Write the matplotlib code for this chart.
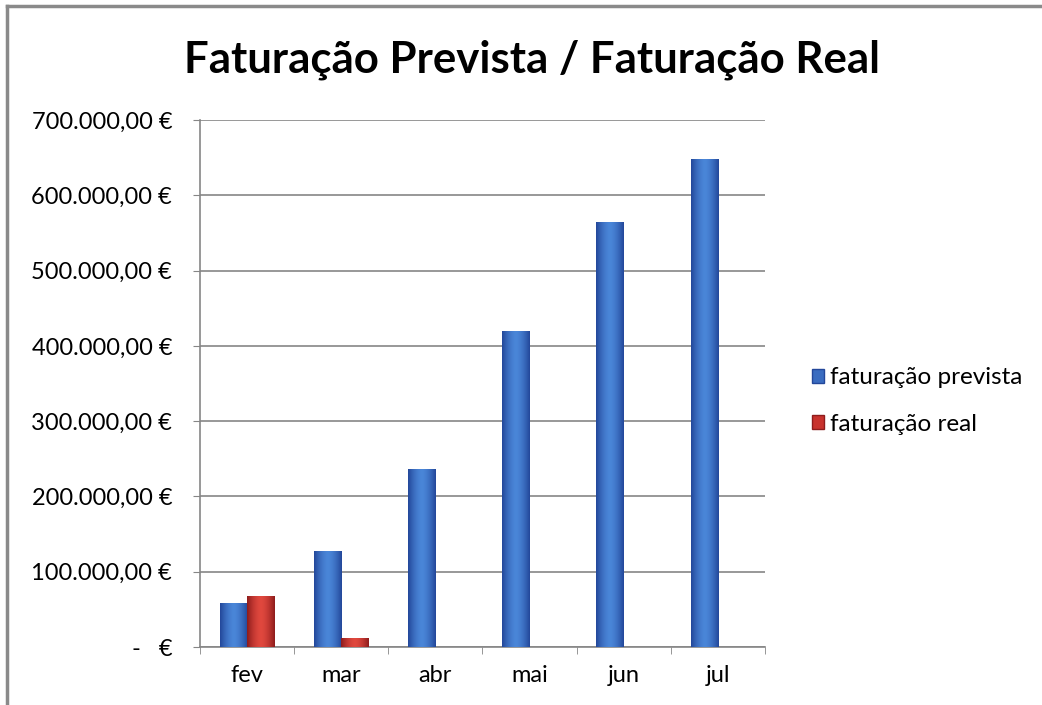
import numpy as np
import matplotlib
matplotlib.use('Agg')
import matplotlib.pyplot as plt
from matplotlib.lines import Line2D
from matplotlib.patches import Patch

# dados do gráfico
meses = ['fev', 'mar', 'abr', 'mai', 'jun', 'jul']
faturacao_prevista = [58000, 128000, 237000, 420000, 564000, 648000]
faturacao_real = [68000, 12000, 0, 0, 0, 0]
yticks = [0, 100000, 200000, 300000, 400000, 500000, 600000, 700000]

plt.rcParams['font.family'] = ['Lato', 'DejaVu Sans']


def fmt_euro(v):
    if v == 0:
        return '-   €'
    s = '{:,.2f}'.format(v)  # 100,000.00
    s = s.replace(',', 'X').replace('.', ',').replace('X', '.')
    return s + ' €'


def cilindro(ax, bars, escuro, claro):
    # gradiente horizontal para dar o efeito 3D das barras do Excel
    t = np.linspace(-1, 1, 64)
    w = (1 - np.abs(t) ** 1.6)[None, :, None]
    c1 = np.array(matplotlib.colors.to_rgb(escuro))[None, None, :]
    c2 = np.array(matplotlib.colors.to_rgb(claro))[None, None, :]
    img = c1 + (c2 - c1) * w
    for b in bars:
        if b.get_height() <= 0:
            continue
        x0, y0 = b.get_x(), b.get_y()
        x1, y1 = x0 + b.get_width(), y0 + b.get_height()
        im = ax.imshow(img, extent=[x0, x1, y0, y1], aspect='auto',
                       interpolation='bilinear', zorder=3)
        im.set_clip_path(b)


fig = plt.figure(figsize=(10.42, 7.05), dpi=100)
ax = fig.add_axes([200 / 1042, 58 / 705, 565 / 1042, 527 / 705])

x = np.arange(len(meses))
largura = 0.29
b1 = ax.bar(x - largura / 2, faturacao_prevista, largura, color='#3a6cc0', zorder=2)
b2 = ax.bar(x + largura / 2, faturacao_real, largura, color='#c8322d', zorder=2)
cilindro(ax, b1, '#23479a', '#4a86d8')
cilindro(ax, b2, '#8e1c1c', '#e0483e')

ax.set_xlim(-0.5, len(meses) - 0.5)
ax.set_ylim(0, 700000)
ax.set_yticks(yticks)
ax.set_yticklabels([fmt_euro(v) for v in yticks], fontsize=17)
ax.set_xticks(x)
ax.set_xticklabels(meses, fontsize=17)
ax.set_xticks(np.arange(-0.5, len(meses), 1), minor=True)
ax.tick_params(axis='x', which='major', length=0, pad=13)
ax.tick_params(axis='x', which='minor', length=5, color='#868686', direction='out')
ax.tick_params(axis='y', length=5, color='#868686', direction='out', pad=15)

ax.grid(axis='y', color='#868686', linewidth=1.2, zorder=0)
for s in ['top', 'right']:
    ax.spines[s].set_visible(False)
for s in ['left', 'bottom']:
    ax.spines[s].set_color('#868686')
    ax.spines[s].set_linewidth(1.2)

fig.text(532 / 1042, 1 - 60 / 705, 'Faturação Prevista / Faturação Real',
         ha='center', va='center', fontsize=31.5, fontweight='bold')

handles = [Patch(facecolor='#3a6cc0', edgecolor='#23479a'),
           Patch(facecolor='#c8322d', edgecolor='#8e1c1c')]
fig.legend(handles, ['faturação prevista', 'faturação real'],
           loc='center left', bbox_to_anchor=(790 / 1042, 1 - 401 / 705),
           frameon=False, fontsize=17.5, handlelength=0.5, handleheight=0.5,
           handletextpad=0.25, labelspacing=1.05)

# moldura exterior
fig.add_artist(Line2D([7 / 1042, 1], [1 - 6 / 705, 1 - 6 / 705], color='#8a8a8a', lw=2.5))
fig.add_artist(Line2D([7 / 1042, 7 / 1042], [0, 1 - 6 / 705], color='#8a8a8a', lw=2.5))

fig.savefig('out.png', dpi=100)
